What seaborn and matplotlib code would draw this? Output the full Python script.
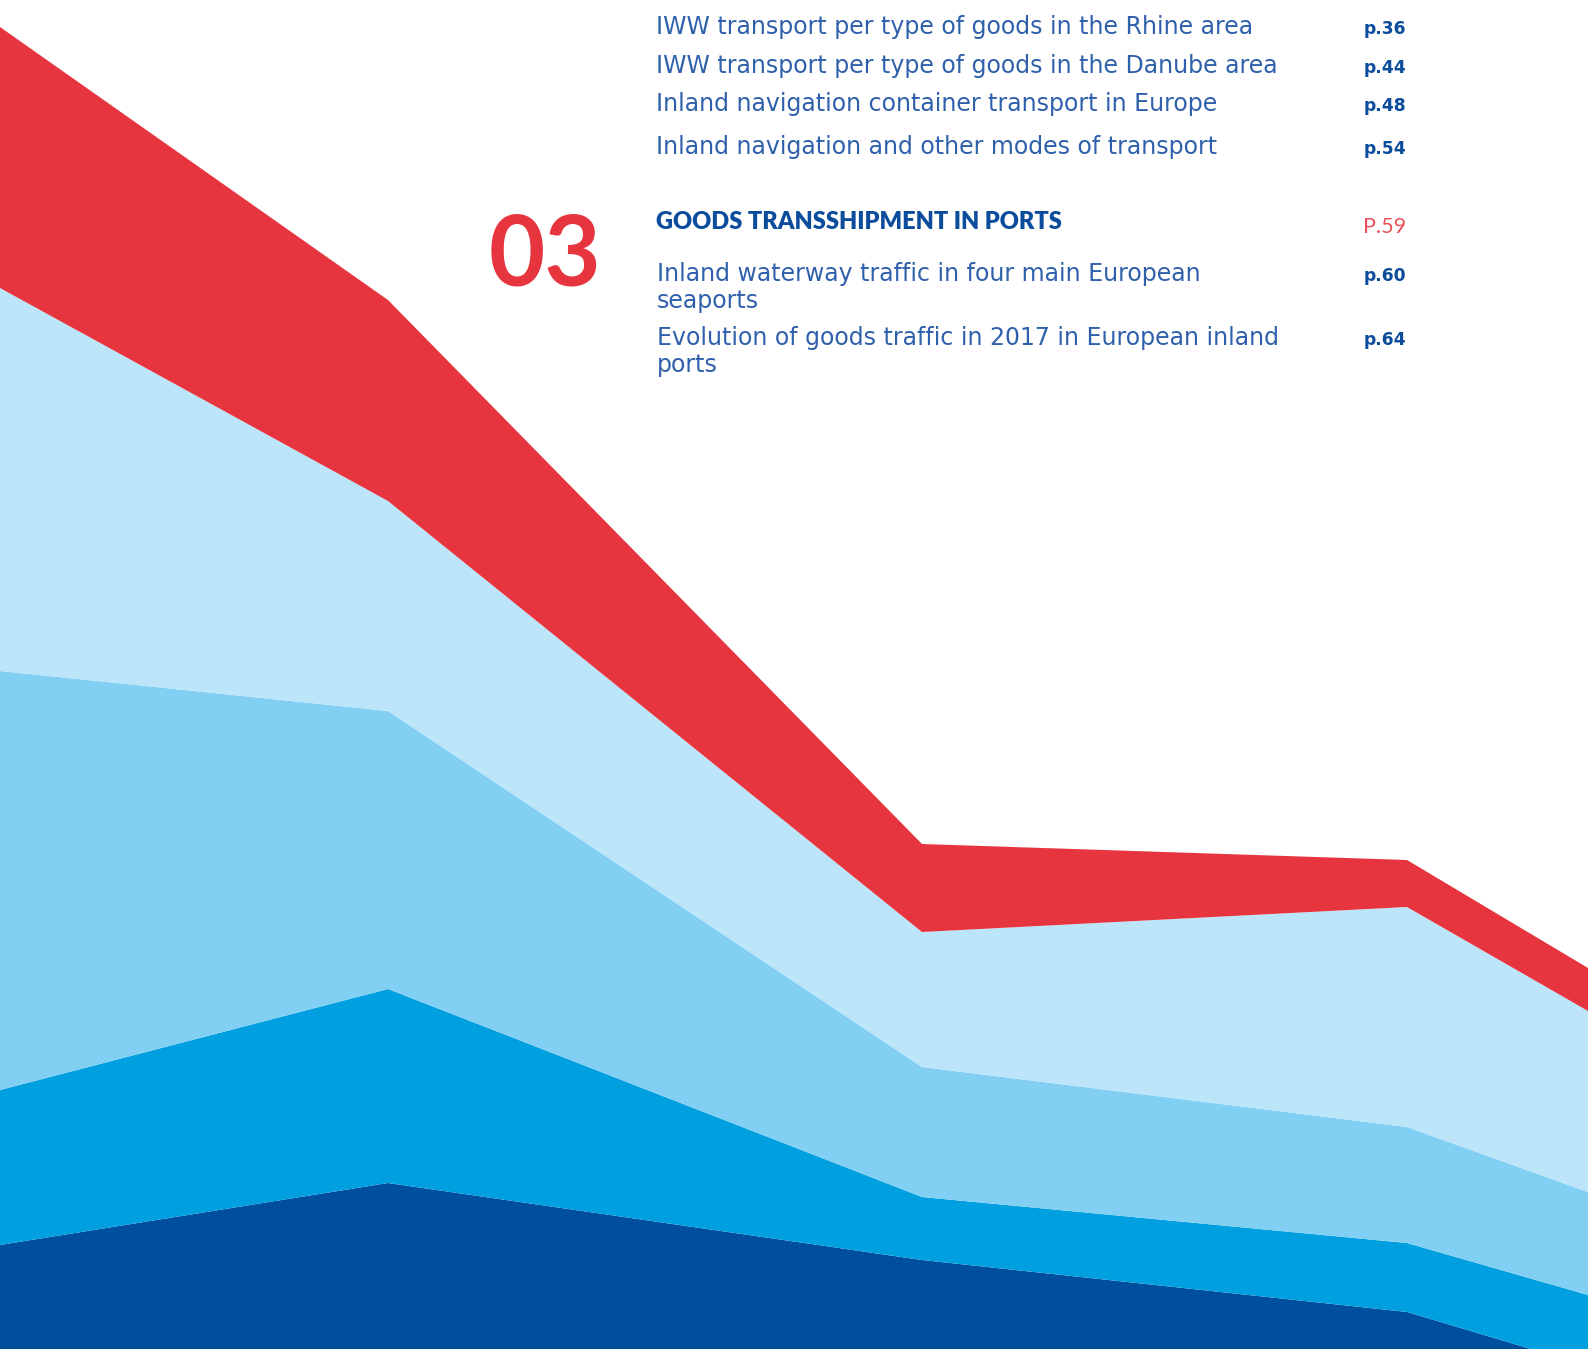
import matplotlib.pyplot as plt
import seaborn as sns

# ── Datos ───────────────────────────────────────────────────────────────────
periods = [0, 388, 922, 1407, 1588]
layer_dark = [155, 217, 140, 88, 34]
layer_blue = [155, 194, 63, 69, 71]
layer_medium = [419, 278, 130, 116, 103]
layer_light = [383, 210, 135, 220, 181]
layer_red = [261, 201, 88, 47, 43]

colors = ["#004F9E", "#009FE0", "#82CFF4", "#BDE5F9", "#E73540"]

toc_top = [
    "IWW transport per type of goods in the Rhine area",
    "IWW transport per type of goods in the Danube area",
    "Inland navigation container transport in Europe",
    "Inland navigation and other modes of transport",
]
toc_top_pages = ["p.36", "p.44", "p.48", "p.54"]

section_num = "03"
section_title = "GOODS TRANSSHIPMENT IN PORTS"
section_page = "P.59"
toc_sec = [
    ["Inland waterway traffic in four main European", "seaports"],
    ["Evolution of goods traffic in 2017 in European inland", "ports"],
]
toc_sec_pages = ["p.60", "p.64"]

# ── Figura ─────────────────────────────────────────────────────────────────
sns.set_style("white")
plt.rcParams["font.family"] = ["DejaVu Sans"]

W, H = 1588, 1349
fig = plt.figure(figsize=(W / 100, H / 100), dpi=100)
ax = fig.add_axes([0, 0, 1, 1])
ax.stackplot(periods, layer_dark, layer_blue, layer_medium, layer_light, layer_red,
             colors=colors, linewidth=0)
ax.set_xlim(0, 1588)
ax.set_ylim(51, 1400)
ax.axis("off")


def fx(x):
    return x / W


def fy(y):
    return 1 - y / H


body_col = "#2F60AB"
bold_col = "#0B4C9C"
red = "#E73540"
fs_body = 17
fs_pg = 12.3
lato = ["Lato", "DejaVu Sans"]

# bloque superior del índice (líneas base en px)
for txt, pg, y in zip(toc_top, toc_top_pages, [34, 73, 111, 154]):
    fig.text(fx(656), fy(y), txt, fontsize=fs_body, color=body_col,
             va="baseline", ha="left")
    fig.text(fx(1406), fy(y), pg, fontsize=fs_pg, color=bold_col,
             fontweight="bold", va="baseline", ha="right")

fig.text(fx(489), fy(285), section_num, fontsize=70, color=red,
         fontweight="bold", va="baseline", ha="left", family=lato)
fig.text(fx(656), fy(229), section_title, fontsize=17, color=bold_col,
         fontweight="heavy", va="baseline", ha="left", family=lato)
fig.text(fx(1406), fy(233), section_page, fontsize=15.5, color="#E8505A",
         va="baseline", ha="right", family=lato)

for lines, pg, y in zip(toc_sec, toc_sec_pages, [281, 345]):
    for i, line in enumerate(lines):
        fig.text(fx(657), fy(y + 27 * i), line, fontsize=fs_body, color=body_col,
                 va="baseline", ha="left")
    fig.text(fx(1406), fy(y), pg, fontsize=fs_pg, color=bold_col,
             fontweight="bold", va="baseline", ha="right")

plt.savefig("out.png", dpi=100)
plt.close()
